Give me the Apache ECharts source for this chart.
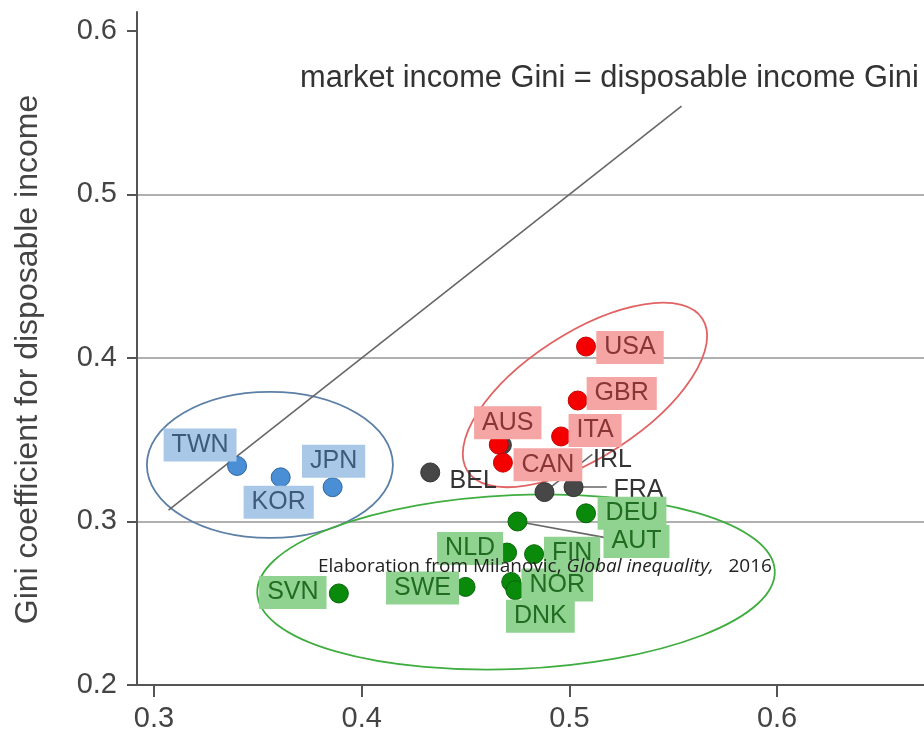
<!DOCTYPE html>
<html>
<head>
<meta charset="utf-8">
<title>Gini: market vs disposable income</title>
<script src="https://cdn.jsdelivr.net/npm/echarts@6/dist/echarts.min.js"></script>
</head>
<body style="margin:0">
<div id="main" style="width:924px;height:738px;"></div>
<script>
// values
var blueNames = ['TWN', 'KOR', 'JPN'];
var blueX = [0.340, 0.361, 0.386];
var blueY = [0.334, 0.327, 0.321];

var redNames = ['USA', 'GBR', 'ITA', 'AUS', 'CAN'];
var redX = [0.508, 0.504, 0.496, 0.466, 0.468];
var redY = [0.407, 0.374, 0.352, 0.347, 0.336];

var greyNames = ['BEL', 'IRL', 'FRA', ''];
var greyX = [0.433, 0.488, 0.502, 0.4675];
var greyY = [0.330, 0.318, 0.321, 0.3468];

var greenNames = ['DEU', 'AUT', 'NLD', 'FIN', 'SWE', 'NOR', 'DNK', 'SVN'];
var greenX = [0.508, 0.475, 0.470, 0.483, 0.450, 0.472, 0.474, 0.389];
var greenY = [0.305, 0.300, 0.281, 0.280, 0.260, 0.263, 0.258, 0.256];

var xTicks = [0.3, 0.4, 0.5, 0.6];
var yTicks = [0.2, 0.3, 0.4, 0.5, 0.6];
var diagonal = [0.307, 0.554];

// leader lines: from point to label
var leaders = [
    [[0.488, 0.318], [0.511, 0.341]],
    [[0.502, 0.321], [0.518, 0.321]],
    [[0.475, 0.300], [0.518, 0.290]]
];

// group ellipses: centre in data units, radii (px) and tilt (deg)
var ellipses = [
    { c: [0.3558, 0.3346], a: 123, b: 73, rot: 0, color: '#5c7fa6' },
    { c: [0.5075, 0.3774], a: 140, b: 62, rot: 33, color: '#e06464' },
    { c: [0.4743, 0.2630], a: 259, b: 87, rot: 2.5, color: '#40ad40' }
];

// label offsets from the dot centre (px)
var labelOffset = {
    TWN: [-37, -21], KOR: [-2, 25], JPN: [1, -26],
    USA: [44, 1], GBR: [44, -7], ITA: [34, -6], AUS: [9, -22], CAN: [45, 2],
    BEL: [43, 9], IRL: [68, -32], FRA: [65, 3],
    DEU: [46, 0], AUT: [119, 20], NLD: [-37, -4], FIN: [38, -1],
    SWE: [-43, 1], NOR: [46, 3], DNK: [25, 26], SVN: [-46, -1]
};

var font = 'Liberation Sans';

function pts(names, xs, ys) {
    return names.map(function (n, i) {
        return { name: n, value: [xs[i], ys[i]], label: { offset: labelOffset[n] || [0, 0] } };
    });
}

function group(names, xs, ys, dot, border, bg, text) {
    return {
        type: 'scatter',
        z: 4,
        symbolSize: 19,
        itemStyle: { color: dot, borderColor: border, borderWidth: 1, opacity: 1 },
        label: {
            show: true,
            position: 'inside',
            formatter: '{b}',
            fontFamily: font,
            fontSize: 25,
            lineHeight: 28,
            color: text,
            backgroundColor: bg,
            padding: bg ? [3, 8, 2, 8] : 0
        },
        emphasis: { disabled: true },
        data: pts(names, xs, ys)
    };
}

var myChart = echarts.init(document.getElementById('main'));

var option = {
    animation: false,
    grid: { left: 137, right: 0, top: 12, bottom: 53 },
    xAxis: {
        type: 'value',
        min: 0.29182,
        max: 0.67073,
        axisLine: { lineStyle: { color: '#555', width: 2 } },
        axisTick: { show: true, length: 12, lineStyle: { color: '#555', width: 2 }, customValues: xTicks },
        axisLabel: { customValues: xTicks, fontFamily: font, fontSize: 29, color: '#444', margin: 19 },
        splitLine: { show: false }
    },
    yAxis: {
        type: 'value',
        min: 0.2,
        max: 0.61162,
        interval: 0.1,
        name: 'Gini coefficient for disposable income',
        nameLocation: 'middle',
        nameGap: 93,
        nameTextStyle: { fontFamily: font, fontSize: 32, color: '#444', padding: [0, 22, 0, 0] },
        axisLine: { show: true, lineStyle: { color: '#555', width: 2 } },
        axisTick: { show: true, length: 10, lineStyle: { color: '#555', width: 2 }, customValues: yTicks },
        axisLabel: { customValues: yTicks, fontFamily: font, fontSize: 29, color: '#444', margin: 20 },
        splitLine: { show: true, showMaxLine: false, lineStyle: { color: '#b0b0b0', width: 2 } }
    },
    graphic: [
        {
            type: 'text',
            x: 300, y: 79,
            style: {
                text: 'market income Gini = disposable income Gini',
                font: '30.8px "Liberation Sans"',
                fill: '#333',
                verticalAlign: 'middle'
            }
        },
        {
            type: 'text',
            x: 318, y: 567,
            z: 100,
            style: {
                text: 'Elaboration from Milanovic, {i|Global inequality,}   2016',
                font: '19px "Open Sans"',
                fill: '#222',
                verticalAlign: 'middle',
                rich: { i: { fontStyle: 'italic', font: 'italic 19px "Open Sans"', fill: '#222' } }
            }
        }
    ],
    series: [
        {
            type: 'custom',
            z: 1,
            silent: true,
            data: ellipses.map(function (e) { return e.c; }),
            renderItem: function (params, api) {
                var e = ellipses[params.dataIndex];
                var c = api.coord([api.value(0), api.value(1)]);
                var t = e.rot * Math.PI / 180;
                var x1 = c[0] + e.a * Math.cos(t), y1 = c[1] - e.a * Math.sin(t);
                var x2 = c[0] - e.a * Math.cos(t), y2 = c[1] + e.a * Math.sin(t);
                var arc = ' A' + e.a + ' ' + e.b + ' ' + (-e.rot) + ' 1 0 ';
                var d = 'M' + x1 + ' ' + y1 + arc + x2 + ' ' + y2 + arc + x1 + ' ' + y1 + 'Z';
                return {
                    type: 'path',
                    shape: { pathData: d },
                    style: { fill: null, stroke: e.color, lineWidth: 1.8 }
                };
            }
        },
        {
            type: 'lines',
            coordinateSystem: 'cartesian2d',
            z: 2,
            silent: true,
            lineStyle: { color: '#666', width: 1.6, opacity: 1 },
            data: [{ coords: [[diagonal[0], diagonal[0]], [diagonal[1], diagonal[1]]] }]
                .concat(leaders.map(function (l) { return { coords: l }; }))
        },
        group(greyNames, greyX, greyY, '#474747', '#333333', null, '#333'),
        group(blueNames, blueX, blueY, '#4a8fd6', '#2f649c', '#a9c8e8', '#3d5a78'),
        group(redNames, redX, redY, '#f50000', '#c40000', '#f6a5a5', '#8a3434'),
        group(greenNames, greenX, greenY, '#0a8a0a', '#066606', '#90d390', '#206c20')
    ]
};

myChart.setOption(option);
</script>
</body>
</html>
